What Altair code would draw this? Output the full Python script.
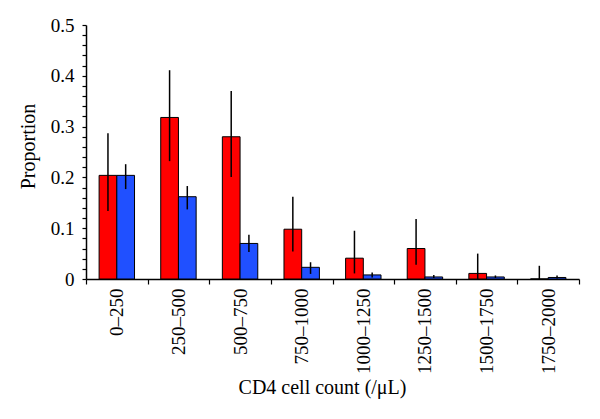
import altair as alt
import pandas as pd

categories = ["0–250", "250–500", "500–750", "750–1000", "1000–1250", "1250–1500", "1500–1750", "1750–2000"]
red_values = [0.204, 0.318, 0.280, 0.098, 0.041, 0.060, 0.011, 0.000]
red_low = [0.134, 0.232, 0.201, 0.054, 0.011, 0.028, 0.000, 0.000]
red_high = [0.287, 0.411, 0.370, 0.162, 0.095, 0.118, 0.050, 0.026]
blue_values = [0.204, 0.162, 0.070, 0.023, 0.008, 0.004, 0.004, 0.003]
blue_low = [0.177, 0.137, 0.053, 0.010, 0.003, 0.002, 0.002, 0.001]
blue_high = [0.226, 0.183, 0.087, 0.033, 0.013, 0.008, 0.007, 0.007]
groups = ["A", "B"]
group_colors = ["#ff0000", "#2050ff"]
y_ticks = [round(i * 0.02, 2) for i in range(26)]

rows = []
for i, c in enumerate(categories):
    rows.append({"cat": c, "group": "A", "value": red_values[i], "lo": red_low[i], "hi": red_high[i]})
    rows.append({"cat": c, "group": "B", "value": blue_values[i], "lo": blue_low[i], "hi": blue_high[i]})
df = pd.DataFrame(rows)

FONT = "Liberation Serif"

x_axis = alt.Axis(
    title="CD4 cell count (/μL)",
    labelAngle=270,
    tickBand="extent",
    tickSize=5,
    labelPadding=4,
    titleX=236,
    titleY=108,
    titleBaseline="middle",
    titleAlign="center",
    titleFontWeight="normal",
    labelOverlap=False,
)
x_scale = alt.Scale(paddingInner=0, paddingOuter=0)
xoff = alt.XOffset("group:N", sort=groups, scale=alt.Scale(domain=groups, paddingInner=0, paddingOuter=0.74))
y_scale = alt.Scale(domain=[0, 0.5], nice=False)
y_axis = alt.Axis(
    title="Proportion",
    values=y_ticks,
    labelExpr="abs(round(datum.value*10) - datum.value*10) < 0.000001 ? format(datum.value, '.1~f') : ''",
    tickSize=4,
    labelPadding=8,
    labelOverlap=False,
    titleX=-58,
    titleY=121,
    titleAngle=270,
    titleBaseline="middle",
    titleAlign="center",
    titleFontWeight="normal",
)

bars = alt.Chart(df).mark_bar(stroke="black", strokeWidth=1).encode(
    x=alt.X("cat:N", sort=categories, scale=x_scale, axis=x_axis),
    xOffset=xoff,
    y=alt.Y("value:Q", scale=y_scale, axis=y_axis),
    color=alt.Color("group:N", scale=alt.Scale(domain=groups, range=group_colors), legend=None),
)

errs = alt.Chart(df).mark_rule(color="black", strokeWidth=1.5).encode(
    x=alt.X("cat:N", sort=categories, scale=x_scale, axis=x_axis),
    xOffset=xoff,
    y=alt.Y("lo:Q", scale=y_scale, axis=y_axis),
    y2="hi:Q",
)

chart = (
    alt.layer(bars, errs)
    .properties(
        width=493,
        height=254,
        padding={"left": 78, "top": 17, "right": 13, "bottom": 132},
        autosize=alt.AutoSizeParams(type="none"),
    )
    .configure_view(stroke=None)
    .configure_axis(
        labelFont=FONT,
        titleFont=FONT,
        labelFontSize=19,
        titleFontSize=20,
        labelColor="black",
        titleColor="black",
        domainColor="black",
        tickColor="black",
        domainWidth=1.5,
        tickWidth=1.2,
        grid=False,
        labelOverlap=False,
    )
)

chart.save("out.html", embed_options={"renderer": "svg", "actions": False})
